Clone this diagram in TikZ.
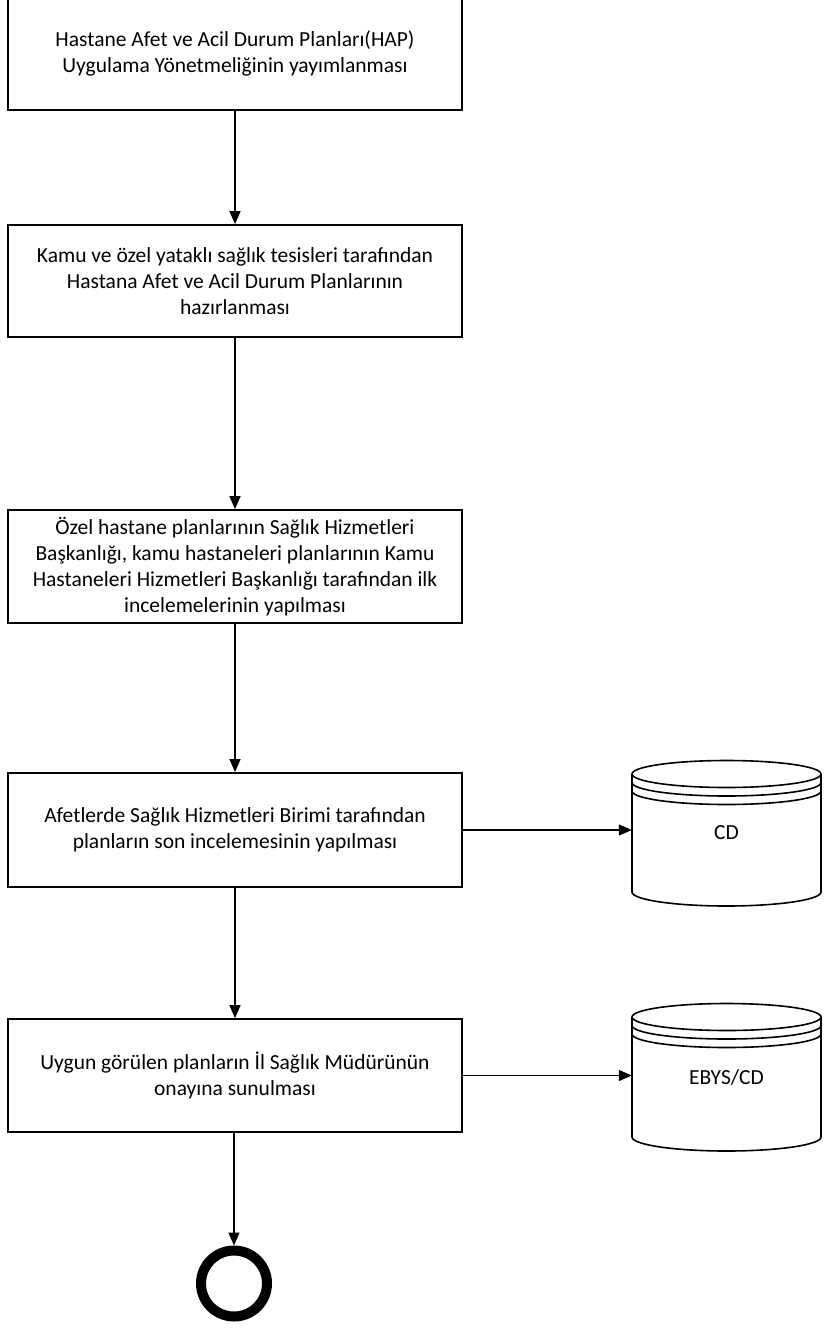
\documentclass[tikz,border=0pt]{standalone}
\usepackage{fontspec}
\setmainfont{Carlito}
\usetikzlibrary{arrows.meta}
\begin{document}
\begin{tikzpicture}[x=1pt,y=1pt,
  stepbox/.style={draw, line width=1.8pt, minimum width=454pt, align=center, inner sep=0pt,
     font=\fontsize{21.5}{26}\selectfont},
  conn/.style={line width=1.3pt, -{Triangle[length=13pt,width=11pt]}},
  cyl/.style={line width=1.6pt},
  cyltext/.style={minimum width=189pt, inner sep=0pt, font=\fontsize{21.5}{26}\selectfont}]
\useasboundingbox (0,0) rectangle (829,-1328);
\clip (0,0) rectangle (829,-1328);
\node[stepbox, minimum height=114pt] (b1) at (235,-53) {Hastane Afet ve Acil Durum Planları(HAP)\\Uygulama Yönetmeliğinin yayımlanması};
\node[stepbox, minimum height=112pt] (b2) at (235,-281) {Kamu ve özel yataklı sağlık tesisleri tarafından\\Hastana Afet ve Acil Durum Planlarının\\hazırlanması};
\node[stepbox, minimum height=113pt] (b3) at (235,-566.5) {Özel hastane planlarının Sağlık Hizmetleri\\Başkanlığı, kamu hastaneleri planlarının Kamu\\Hastaneleri Hizmetleri Başkanlığı tarafından ilk\\incelemelerinin yapılması};
\node[stepbox, minimum height=114pt] (b4) at (235,-830) {Afetlerde Sağlık Hizmetleri Birimi tarafından\\planların son incelemesinin yapılması};
\node[stepbox, minimum height=113pt] (b5) at (235,-1075.5) {Uygun görülen planların İl Sağlık Müdürünün\\onayına sunulması};
\node[circle, draw, line width=10pt, minimum size=66pt, inner sep=0pt] (end) at (234,-1283.5) {};
% cylinders
\node[cyltext, minimum height=118pt] (cd) at (726.5,-833) {};
\node[cyltext, minimum height=120pt] (ebys) at (726.5,-1077) {};
\foreach \c/\t/\b in {cd/774/892, ebys/1017/1137}{
  \draw[cyl, fill=white] (632,-\t) -- (632,-\b) arc[start angle=180,end angle=360,x radius=94.5,y radius=14] -- (821,-\t);
  \draw[cyl] (726.5,-\t) ellipse [x radius=94.5, y radius=13.5];
  \draw[cyl] (632,-\t-8.5) arc[start angle=180,end angle=360,x radius=94.5,y radius=13.5];
  \draw[cyl] (632,-\t-17) arc[start angle=180,end angle=360,x radius=94.5,y radius=13.5];
}
\node[cyltext] (cdlabel) at (cd) {CD};
\node[cyltext] (ebyslabel) at (ebys) {EBYS/CD};
\draw[conn] (b1) -- (b2);
\draw[conn] (b2) -- (b3);
\draw[conn] (b3) -- (b4);
\draw[conn] (b4) -- (b5);
\draw[conn] (b5.south -| end) -- (end.north);
\draw[conn] (b4.east) -- (b4.east -| cd.west);
\draw[conn] (b5.east) -- (b5.east -| ebys.west);
\end{tikzpicture}
\end{document}
